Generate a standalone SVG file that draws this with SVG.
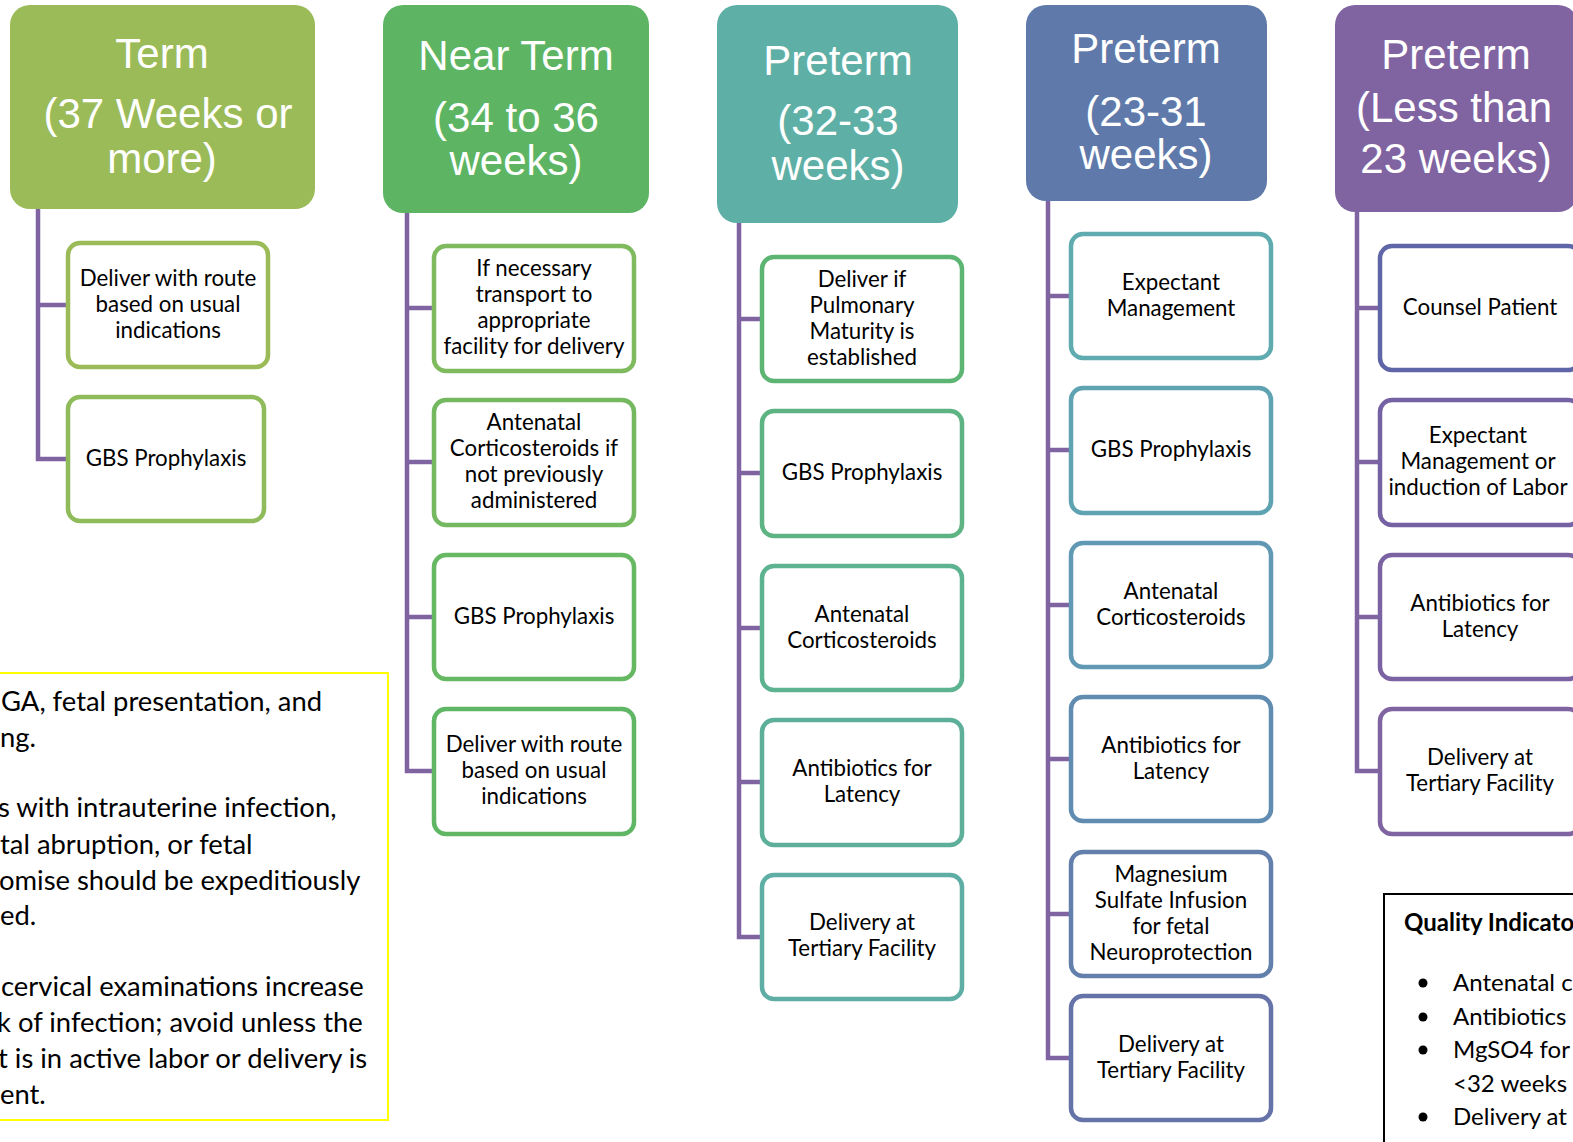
<svg xmlns="http://www.w3.org/2000/svg" width="1573" height="1142" viewBox="0 0 1573 1142">
<style>
.hdr{stroke:none}
.ht{font-family:"Liberation Sans",Arial,sans-serif;font-size:42px;fill:#ffffff;text-anchor:middle}
.box{fill:#ffffff;stroke-width:4.5}
.bt{font-family:Lato,"Open Sans",sans-serif;font-size:22.3px;fill:#000000;text-anchor:middle}
.conn{fill:none;stroke:#8064a2;stroke-width:4.5;stroke-linejoin:miter}
.nt{font-family:Lato,"Open Sans",sans-serif;font-size:27.4px;fill:#000000}
.qt{font-family:Lato,"Open Sans",sans-serif;font-size:24px;fill:#000000}
.qb{font-family:Lato,"Open Sans",sans-serif;font-size:24px;font-weight:bold;fill:#000000}
</style>
<rect width="1573" height="1142" fill="#ffffff"/>

<g id="connectors">
<path class="conn" d="M38,209 V459 H70 M38,305 H70"/>
<path class="conn" d="M407,213 V771 H436 M407,308 H436 M407,462 H436 M407,617 H436"/>
<path class="conn" d="M739,223 V937 H764 M739,319 H764 M739,473 H764 M739,628 H764 M739,782 H764"/>
<path class="conn" d="M1048,201 V1058 H1073 M1048,296 H1073 M1048,450 H1073 M1048,605 H1073 M1048,759 H1073 M1048,914 H1073"/>
<path class="conn" d="M1357,212 V771 H1382 M1357,308 H1382 M1357,462 H1382 M1357,617 H1382"/>
</g>

<!-- Headers -->
<g id="h-term">
<rect class="hdr" x="10" y="5" width="305" height="204" rx="20" fill="#9bbb59"/>
<text class="ht" x="162" y="68">Term</text>
<text class="ht" x="168" y="128">(37 Weeks or</text>
<text class="ht" x="162" y="173">more)</text>
</g>
<g id="h-nearterm">
<rect class="hdr" x="383" y="5" width="266" height="208" rx="20" fill="#5db564"/>
<text class="ht" x="516" y="70">Near Term</text>
<text class="ht" x="516" y="132">(34 to 36</text>
<text class="ht" x="516" y="175">weeks)</text>
</g>
<g id="h-preterm3233">
<rect class="hdr" x="717" y="5" width="241" height="218" rx="20" fill="#5eafa6"/>
<text class="ht" x="838" y="75">Preterm</text>
<text class="ht" x="838" y="135">(32-33</text>
<text class="ht" x="838" y="180">weeks)</text>
</g>
<g id="h-preterm2331">
<rect class="hdr" x="1026" y="5" width="241" height="196" rx="20" fill="#5f7aaa"/>
<text class="ht" x="1146" y="63">Preterm</text>
<text class="ht" x="1146" y="126">(23-31</text>
<text class="ht" x="1146" y="169">weeks)</text>
</g>
<g id="h-preterm23">
<rect class="hdr" x="1335" y="5" width="243" height="207" rx="20" fill="#8064a2"/>
<text class="ht" x="1456" y="69">Preterm</text>
<text class="ht" x="1454" y="122">(Less than</text>
<text class="ht" x="1456" y="173">23 weeks)</text>
</g>

<!-- Column 1 -->
<g id="c1b1">
<rect class="box" x="68" y="243" width="200" height="124" rx="12" stroke="#9bbb59"/>
<text class="bt" x="168" y="286">Deliver with route</text>
<text class="bt" x="168" y="312">based on usual</text>
<text class="bt" x="168" y="338">indications</text>
</g>
<g id="c1b2">
<rect class="box" x="68" y="397" width="196" height="124" rx="12" stroke="#8fbb5b"/>
<text class="bt" x="166" y="466">GBS Prophylaxis</text>
</g>

<!-- Column 2 -->
<g id="c2b1">
<rect class="box" x="434" y="246" width="200" height="125" rx="12" stroke="#7fba5e"/>
<text class="bt" x="534" y="276">If necessary</text>
<text class="bt" x="534" y="302">transport to</text>
<text class="bt" x="534" y="328">appropriate</text>
<text class="bt" x="534" y="354">facility for delivery</text>
</g>
<g id="c2b2">
<rect class="box" x="434" y="400" width="200" height="125" rx="12" stroke="#74b960"/>
<text class="bt" x="534" y="430">Antenatal</text>
<text class="bt" x="534" y="456">Corticosteroids if</text>
<text class="bt" x="534" y="482">not previously</text>
<text class="bt" x="534" y="508">administered</text>
</g>
<g id="c2b3">
<rect class="box" x="434" y="555" width="200" height="124" rx="12" stroke="#66b862"/>
<text class="bt" x="534" y="624">GBS Prophylaxis</text>
</g>
<g id="c2b4">
<rect class="box" x="434" y="709" width="200" height="125" rx="12" stroke="#5fb765"/>
<text class="bt" x="534" y="752">Deliver with route</text>
<text class="bt" x="534" y="778">based on usual</text>
<text class="bt" x="534" y="804">indications</text>
</g>

<!-- Column 3 -->
<g id="c3b1">
<rect class="box" x="762" y="257" width="200" height="124" rx="12" stroke="#5db574"/>
<text class="bt" x="862" y="287">Deliver if</text>
<text class="bt" x="862" y="313">Pulmonary</text>
<text class="bt" x="862" y="339">Maturity is</text>
<text class="bt" x="862" y="365">established</text>
</g>
<g id="c3b2">
<rect class="box" x="762" y="411" width="200" height="125" rx="12" stroke="#5db382"/>
<text class="bt" x="862" y="480">GBS Prophylaxis</text>
</g>
<g id="c3b3">
<rect class="box" x="762" y="566" width="200" height="124" rx="12" stroke="#5db28f"/>
<text class="bt" x="862" y="622">Antenatal</text>
<text class="bt" x="862" y="648">Corticosteroids</text>
</g>
<g id="c3b4">
<rect class="box" x="762" y="720" width="200" height="125" rx="12" stroke="#5daf9a"/>
<text class="bt" x="862" y="776">Antibiotics for</text>
<text class="bt" x="862" y="802">Latency</text>
</g>
<g id="c3b5">
<rect class="box" x="762" y="875" width="200" height="124" rx="12" stroke="#5eaea5"/>
<text class="bt" x="862" y="930">Delivery at</text>
<text class="bt" x="862" y="956">Tertiary Facility</text>
</g>

<!-- Column 4 -->
<g id="c4b1">
<rect class="box" x="1071" y="234" width="200" height="124" rx="12" stroke="#5fabb0"/>
<text class="bt" x="1171" y="290">Expectant</text>
<text class="bt" x="1171" y="316">Management</text>
</g>
<g id="c4b2">
<rect class="box" x="1071" y="388" width="200" height="125" rx="12" stroke="#5fa3b2"/>
<text class="bt" x="1171" y="457">GBS Prophylaxis</text>
</g>
<g id="c4b3">
<rect class="box" x="1071" y="543" width="200" height="124" rx="12" stroke="#6198b4"/>
<text class="bt" x="1171" y="599">Antenatal</text>
<text class="bt" x="1171" y="625">Corticosteroids</text>
</g>
<g id="c4b4">
<rect class="box" x="1071" y="697" width="200" height="124" rx="12" stroke="#618cb1"/>
<text class="bt" x="1171" y="753">Antibiotics for</text>
<text class="bt" x="1171" y="779">Latency</text>
</g>
<g id="c4b5">
<rect class="box" x="1071" y="852" width="200" height="124" rx="12" stroke="#6380ad"/>
<text class="bt" x="1171" y="882">Magnesium</text>
<text class="bt" x="1171" y="908">Sulfate Infusion</text>
<text class="bt" x="1171" y="934">for fetal</text>
<text class="bt" x="1171" y="960">Neuroprotection</text>
</g>
<g id="c4b6">
<rect class="box" x="1071" y="996" width="200" height="124" rx="12" stroke="#6573a9"/>
<text class="bt" x="1171" y="1052">Delivery at</text>
<text class="bt" x="1171" y="1078">Tertiary Facility</text>
</g>

<!-- Column 5 -->
<g id="c5b1">
<rect class="box" x="1380" y="246" width="200" height="124" rx="12" stroke="#5f66a7"/>
<text class="bt" x="1480" y="315">Counsel Patient</text>
</g>
<g id="c5b2">
<rect class="box" x="1380" y="400" width="200" height="125" rx="12" stroke="#7462a4"/>
<text class="bt" x="1478" y="443">Expectant</text>
<text class="bt" x="1478" y="469">Management or</text>
<text class="bt" x="1478" y="495">induction of Labor</text>
</g>
<g id="c5b3">
<rect class="box" x="1380" y="555" width="200" height="124" rx="12" stroke="#7b63a3"/>
<text class="bt" x="1480" y="611">Antibiotics for</text>
<text class="bt" x="1480" y="637">Latency</text>
</g>
<g id="c5b4">
<rect class="box" x="1380" y="709" width="200" height="125" rx="12" stroke="#8064a2"/>
<text class="bt" x="1480" y="765">Delivery at</text>
<text class="bt" x="1480" y="791">Tertiary Facility</text>
</g>

<!-- Notes box -->
<g id="notes">
<rect x="-10" y="673" width="398" height="447" fill="none" stroke="#ffff00" stroke-width="2"/>
<text class="nt" x="1" y="711">GA, fetal presentation, and</text>
<text class="nt" x="0" y="747">ng.</text>
<text class="nt" x="-2" y="817">s with intrauterine infection,</text>
<text class="nt" x="0" y="854">tal abruption, or fetal</text>
<text class="nt" x="-1" y="890">omise should be expeditiously</text>
<text class="nt" x="0" y="925">ed.</text>
<text class="nt" x="1" y="996">cervical examinations increase</text>
<text class="nt" x="-3" y="1032">k of infection; avoid unless the</text>
<text class="nt" x="-2" y="1068">t is in active labor or delivery is</text>
<text class="nt" x="0" y="1104">ent.</text>
</g>

<!-- Quality indicators box -->
<g id="quality">
<rect x="1384" y="894" width="200" height="260" fill="none" stroke="#000000" stroke-width="2"/>
<text class="qb" x="1404" y="931">Quality Indicato</text>
<circle cx="1423" cy="983" r="4.5" fill="#000000"/>
<text class="qt" x="1453" y="991">Antenatal c</text>
<circle cx="1423" cy="1017" r="4.5" fill="#000000"/>
<text class="qt" x="1453" y="1025">Antibiotics</text>
<circle cx="1423" cy="1050" r="4.5" fill="#000000"/>
<text class="qt" x="1453" y="1058">MgSO4 for</text>
<text class="qt" x="1453" y="1092">&lt;32 weeks</text>
<circle cx="1423" cy="1117" r="4.5" fill="#000000"/>
<text class="qt" x="1453" y="1125">Delivery at</text>
</g>
</svg>
